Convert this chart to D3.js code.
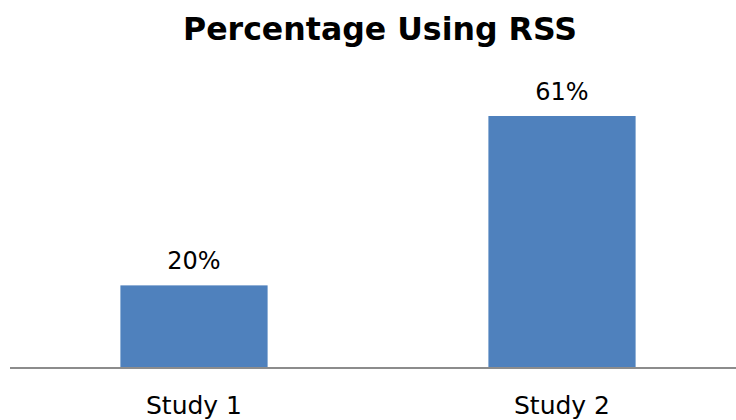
<!DOCTYPE html>
<html><head><meta charset="utf-8">
<script src="https://cdn.jsdelivr.net/npm/d3@7"></script>
<style>body{margin:0;background:#fff}svg{display:block}</style>
</head><body>
<script>
const categories = ["Study 1", "Study 2"];
const values = [20, 61];
const valueLabels = ["20%", "61%"];
const title = "Percentage Using RSS";

const W = 736, H = 420;
const svg = d3.select("body").append("svg").attr("width", W).attr("height", H);

const x = d3.scaleBand().domain(categories).range([10, 746]).paddingInner(0.6).paddingOuter(0.3);
const y = d3.scaleLinear().domain([0, 70]).range([368, 368 - 70 * 252 / 61]);

svg.append("text").attr("x", 380).attr("y", 40).attr("text-anchor", "middle")
  .attr("font-family", "DejaVu Sans, sans-serif").attr("font-weight", "bold").attr("font-size", 31.5)
  .attr("textLength", 394).attr("lengthAdjust", "spacingAndGlyphs")
  .text(title);

svg.selectAll("text.val").data(values).enter().append("text").attr("class", "val")
  .attr("x", (d, i) => x(categories[i]) + x.bandwidth() / 2).attr("y", d => y(d) - 16)
  .attr("text-anchor", "middle").attr("font-family", "DejaVu Sans, sans-serif").attr("font-size", 24)
  .text((d, i) => valueLabels[i]);

svg.selectAll("rect.bar").data(values).enter().append("rect").attr("class", "bar")
  .attr("x", (d, i) => x(categories[i])).attr("width", x.bandwidth())
  .attr("y", d => y(d)).attr("height", d => y(0) - y(d)).attr("fill", "#4F81BD");

const axis = d3.axisBottom(x).tickSize(0).tickPadding(0);
const g = svg.append("g").attr("transform", `translate(0,${y(0)})`).call(axis);
g.select(".domain").attr("d", `M10,0H736`).attr("stroke", "#8c8c8c").attr("stroke-width", 2);
g.selectAll(".tick text").attr("y", 46).attr("dy", null)
  .attr("font-family", "DejaVu Sans, sans-serif").attr("font-size", 25).attr("fill", "#000");
</script>
</body></html>
